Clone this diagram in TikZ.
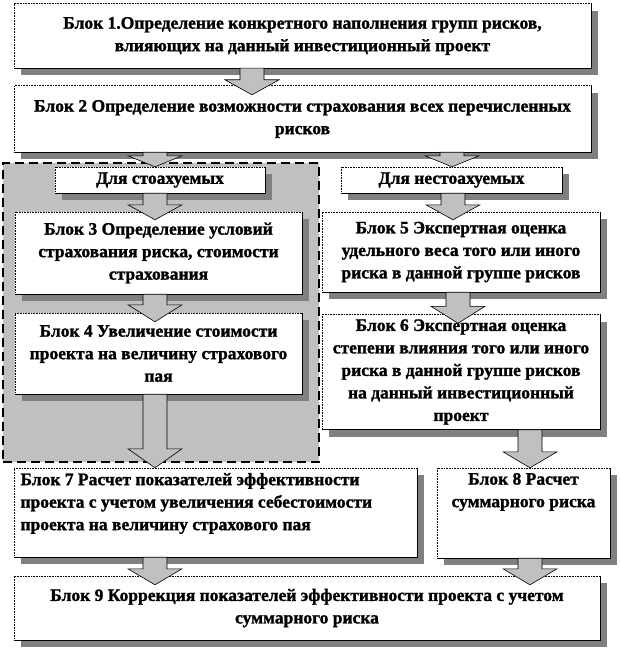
\documentclass[tikz,border=0pt]{standalone}
\usepackage{fontspec}
\setmainfont{Liberation Serif}[BoldFeatures={FakeBold=1.4}]
\usetikzlibrary{calc,shadows}
\definecolor{regiongray}{RGB}{192,192,192}
\definecolor{arrowgray}{RGB}{192,192,192}
\definecolor{shadowgray}{RGB}{128,128,128}
\tikzset{
 blk/.style={fill=white, inner sep=0pt, align=center,
   font=\bfseries\fontsize{17.5}{22.5}\selectfont,
   drop shadow={shadow xshift=7pt, shadow yshift=-7pt, fill=shadowgray, opacity=1}},
 arrowsty/.style={fill=arrowgray, draw=black, line width=0.6pt, line join=miter},
 regionsty/.style={fill=regiongray, draw=black, line width=2.5pt, dash pattern=on 9pt off 5pt},
}
\newcommand\frameit[1]{%
 \draw[line width=0.8pt] (#1.south west) -- (#1.south east) -- (#1.north east);
 \draw[line width=0.6pt, densely dotted] (#1.south west) -- (#1.north west) -- (#1.north east);}
\newcommand\barrow[5]{%
 \path (#3,0) coordinate (ax);
 \path (#1.south -| ax) coordinate (as);
 \path ($(#2.north -| ax)+(0,#4)$) coordinate (at);
 \filldraw[arrowsty] ($(as)+(-12,0)$) -- ($(at)+(-12,-#5)$) -- ($(at)+(-27,-#5)$) -- (at)
   -- ($(at)+(27,-#5)$) -- ($(at)+(12,-#5)$) -- ($(as)+(12,0)$) -- cycle;}
\begin{document}
\begin{tikzpicture}[x=1pt,y=-1pt]
\useasboundingbox (0,0) rectangle (620,650);
\fill[white] (0,0) rectangle (620,650);
\node[regionsty, minimum width=316pt, minimum height=299pt, inner sep=0pt] (grp) at (161,312.5) {};

\node[blk, minimum width=577pt, minimum height=64pt] (b1) at (302.5,36)
 {Блок 1.Определение конкретного наполнения групп рисков,\\ влияющих на данный инвестиционный проект};
\node[blk, minimum width=577pt, minimum height=66pt] (b2) at (302.5,119)
 {Блок 2 Определение возможности страхования всех перечисленных\\ рисков};
\node[blk, minimum width=210pt, minimum height=26pt, drop shadow={opacity=0}] (la) at (160,180) {Для стоахуемых};
\node[blk, minimum width=221pt, minimum height=26pt, drop shadow={opacity=0}] (ra) at (451.5,180) {Для нестоахуемых};
\node[blk, minimum width=287pt, minimum height=82pt] (b3) at (158.5,253)
 {Блок 3 Определение условий\\ страхования риска, стоимости\\ страхования};
\node[blk, minimum width=287pt, minimum height=81pt] (b4) at (158.5,353.5)
 {Блок 4 Увеличение стоимости\\ проекта на величину страхового\\ пая};
\node[blk, minimum width=278pt, minimum height=80pt] (b5) at (461,252)
 {Блок 5 Экспертная оценка\\ удельного веса того или иного\\ риска в данной группе рисков};
\node[blk, minimum width=278pt, minimum height=115pt] (b6) at (461,372)
 {Блок 6 Экспертная оценка\\ степени влияния того или иного\\ риска в данной группе рисков\\ на данный инвестиционный\\ проект};
\node[blk, minimum width=403pt, minimum height=89pt] (b7) at (215.5,512.5)
 {\parbox[c][79pt][t]{390pt}{\raggedright Блок 7 Расчет показателей эффективности\\ проекта с учетом увеличения себестоимости\\ проекта на величину страхового пая}};
\node[blk, minimum width=173pt, minimum height=90pt] (b8) at (523.5,513)
 {\parbox[c][80pt][t]{170pt}{\centering Блок 8 Расчет\\ суммарного риска}};
\node[blk, minimum width=586pt, minimum height=64pt] (b9) at (307,608)
 {Блок 9 Коррекция показателей эффективности проекта с учетом\\ суммарного риска};

\foreach \n in {b1,b2,la,ra,b3,b4,b5,b6,b7,b8,b9} {\frameit{\n}}

\barrow{b1}{b2}{252}{9}{15}
\barrow{b2}{la}{155}{0}{11}
\barrow{b2}{ra}{452}{0}{11}
\barrow{la}{b3}{155}{8}{15}
\barrow{ra}{b5}{453}{8}{15}
\barrow{b3}{b4}{155}{9}{17}
\barrow{b5}{b6}{458}{9}{17}
\barrow{b4}{b7}{155}{0}{19}
\barrow{b6}{b8}{530}{0}{16}
\barrow{b7}{b9}{155}{9}{16}
\barrow{b8}{b9}{530}{9}{16}
\end{tikzpicture}
\end{document}
